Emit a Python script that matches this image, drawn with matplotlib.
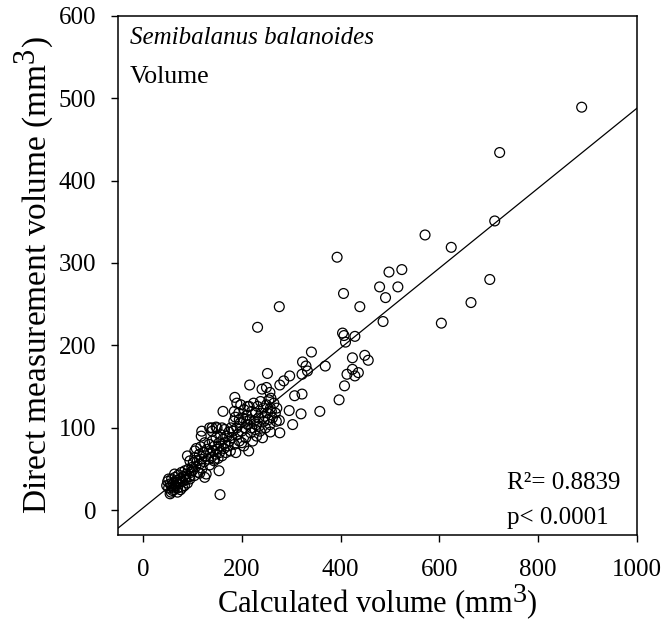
import matplotlib
matplotlib.use("Agg")
import matplotlib.pyplot as plt
import numpy as np

plt.rcParams['font.family'] = ['Liberation Serif', 'DejaVu Serif']
plt.rcParams['mathtext.fontset'] = 'custom'
plt.rcParams['mathtext.rm'] = 'Liberation Serif'
plt.rcParams['mathtext.it'] = 'Liberation Serif:italic'

# the original figure uses a near full-size superscript in the axis labels
try:
    import matplotlib._mathtext as _mt
    _mt.SHRINK_FACTOR = 0.92
except Exception:
    pass

# calculated volume (mm3)
calc_x = [
    # low cluster
    48, 50, 52, 55, 57, 58, 60, 62, 63, 65, 66, 68, 70, 72, 73, 75, 76, 78, 80, 82,
    84, 85, 87, 88, 90, 92, 94, 95, 97, 99, 55, 60, 70, 64, 52, 58, 74, 80, 67, 86,
    # middle
    100, 102, 104, 105, 107, 108, 110, 112, 114, 115, 117, 118, 120, 122, 124, 125,
    127, 128, 130, 132, 134, 135, 137, 138, 140, 142, 144, 145, 147, 148, 150, 152,
    154, 155, 157, 158, 160, 162, 164, 165, 167, 168, 170, 172, 174, 175, 177, 178,
    180, 115, 125, 140, 105, 135, 118, 95, 90, 150, 160, 145,
    # upper middle
    182, 184, 185, 187, 188, 190, 192, 194, 195, 197, 198, 200, 202, 204, 205, 207,
    208, 210, 212, 214, 215, 217, 218, 220, 222, 224, 225, 227, 228, 230, 232, 234,
    235, 237, 238, 240, 242, 244, 245, 247, 248, 250, 252, 254, 255, 257, 258, 260,
    262, 265, 268, 270, 190, 195, 185, 210, 212, 220, 200, 230,
    # scattered points
    888, 722, 712, 702, 664, 604, 624, 571, 524, 498, 516, 479, 491, 486, 393, 406,
    439, 404, 407, 429, 410, 449, 456, 424, 413, 436, 429, 424, 408, 397, 358, 369,
    341, 323, 330, 333, 322, 322, 320, 303, 296, 307, 297, 285, 277, 276, 232, 252,
    216, 241, 250, 257, 259, 271, 276, 277, 258, 186, 162, 156, 154, 119, 148, 140,
]

# direct measurement volume (mm3)
direct_y = [
    30, 35, 27, 32, 22, 38, 28, 33, 25, 40, 30, 36, 27, 43, 32, 38, 25, 46, 35, 41,
    30, 48, 37, 44, 33, 50, 41, 38, 46, 52, 20, 24, 22, 44, 38, 30, 34, 28, 34, 40,
    48, 58, 42, 64, 53, 75, 60, 46, 68, 56, 77, 62, 51, 70, 59, 82,
    66, 44, 74, 62, 80, 55, 70, 64, 84, 72, 60, 78, 68, 88, 74, 63,
    82, 70, 92, 78, 66, 86, 75, 98, 82, 70, 90, 78, 95, 84, 72, 100,
    88, 45, 40, 96, 72, 100, 90, 60, 66, 100, 100, 62,
    96, 108, 80, 113, 70, 100, 92, 118, 84, 106, 128, 96, 112, 78, 122, 100,
    88, 115, 104, 72, 126, 110, 94, 120, 84, 130, 108, 98, 118, 90, 126, 112,
    102, 96, 132, 118, 88, 124, 108, 114, 100, 128, 118, 110, 134, 104, 124, 120,
    112, 130, 118, 108, 130, 110, 120, 108, 126, 100, 82, 104,
    489, 434, 351, 280, 252, 227, 319, 334, 292, 289, 271, 271, 258, 229, 307, 263,
    247, 215, 212, 211, 204, 188, 182, 185, 165, 167, 163, 171, 151, 134, 120, 175,
    192, 180, 175, 169, 165, 141, 117, 104, 121, 139, 163, 157, 152, 247, 222, 166,
    152, 147, 149, 143, 136, 124, 109, 94, 95, 137, 120, 19, 48, 96, 101, 100,
]

# linear regression shown in the figure
slope = 0.485
intercept = 2.8
r2_label = "R\u00b2= 0.8839"
p_label = "p< 0.0001"

x_ticks = [0, 200, 400, 600, 800, 1000]
y_ticks = [0, 100, 200, 300, 400, 500, 600]

fig = plt.figure(figsize=(6.68, 6.40), dpi=100)
ax = fig.add_axes([0.177, 0.164, 0.7766, 0.8115])

ax.scatter(calc_x, direct_y, s=50, facecolors='none', edgecolors='black',
           linewidths=0.9, zorder=3)

xl = np.array([-50, 1000])
ax.plot(xl, slope * xl + intercept, color='black', linewidth=0.9, zorder=2)

ax.set_xlim(-50, 1000)
ax.set_ylim(-30, 600)
ax.set_xticks(x_ticks)
ax.set_yticks(y_ticks)
ax.tick_params(direction='out', length=5, width=1, labelsize=18)
ax.tick_params(axis='x', pad=12)
ax.tick_params(axis='y', pad=11)
for sp in ax.spines.values():
    sp.set_linewidth(1.1)

ax.set_xlabel("Calculated volume (mm$^{3}$)", fontsize=22, labelpad=1)
ax.set_ylabel("Direct measurement volume (mm$^{3}$)", fontsize=24, labelpad=2)

ax.text(0.022, 0.9455, "Semibalanus balanoides", style='italic', fontsize=18,
        transform=ax.transAxes, va='baseline', ha='left')
ax.text(0.022, 0.871, "Volume", fontsize=18.5,
        transform=ax.transAxes, va='baseline', ha='left')
ax.text(0.749, 0.0886, r2_label, fontsize=18,
        transform=ax.transAxes, va='baseline', ha='left')
ax.text(0.749, 0.0212, p_label, fontsize=18,
        transform=ax.transAxes, va='baseline', ha='left')

fig.savefig("out.png", dpi=100)
plt.close(fig)
